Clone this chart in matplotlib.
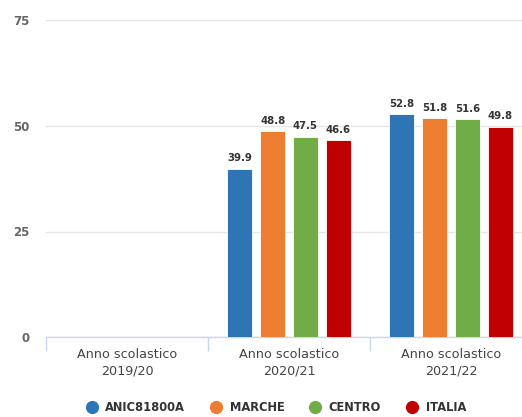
import numpy as np
import matplotlib
matplotlib.use("Agg")
import matplotlib.pyplot as plt

# dati
anni = ["Anno scolastico\n2019/20", "Anno scolastico\n2020/21", "Anno scolastico\n2021/22"]
serie = ["ANIC81800A", "MARCHE", "CENTRO", "ITALIA"]
anic = [np.nan, 39.9, 52.8]
marche = [np.nan, 48.8, 51.8]
centro = [np.nan, 47.5, 51.6]
italia = [np.nan, 46.6, 49.8]
colori = ["#2E75B6", "#ED7D31", "#70AD47", "#C00000"]
yticks = [0, 25, 50, 75]

plt.rcParams['font.family'] = ['DejaVu Sans']

fig = plt.figure(figsize=(5.22, 4.17), dpi=100)
ax = fig.add_axes([46/522, 80/417, 486/522, 316.5/417])

x = np.arange(len(anni))
w = 0.155
step = 0.202
valori = [anic, marche, centro, italia]
for i, (vals, col, nome) in enumerate(zip(valori, colori, serie)):
    pos = x + (i - 1.5) * step
    bars = ax.bar(pos, vals, width=w, color=col, edgecolor="white", linewidth=0.6, label=nome, zorder=3)
    for p, v in zip(pos, vals):
        if not np.isnan(v):
            ax.annotate(f"{v:.1f}", (p, v), xytext=(0, 4), textcoords="offset points",
                        ha="center", va="bottom", fontsize=7.3, fontweight="bold", color="#333333")

ax.set_xlim(-0.5, 2.5)
ax.set_ylim(0, 75)
ax.set_yticks(yticks)
ax.set_yticklabels([str(t) for t in yticks], fontsize=8.5, fontweight="bold", color="#666666")
ax.tick_params(axis="y", length=0, pad=12)
ax.yaxis.grid(True, color="#e6e6e6", linewidth=1, zorder=0)
ax.set_axisbelow(True)

# etichette delle categorie al centro, tacche ai confini
ax.set_xticks(x)
ax.set_xticklabels(anni, fontsize=9.2, color="#444444", linespacing=1.3)
ax.tick_params(axis="x", length=0, pad=8)
ax.set_xticks([-0.5, 0.5, 1.5, 2.5], minor=True)
ax.tick_params(axis="x", which="minor", length=10, color="#ccd6eb", width=1)

for s in ["top", "right", "left"]:
    ax.spines[s].set_visible(False)
ax.spines["bottom"].set_color("#ccd6eb")
ax.spines["bottom"].set_linewidth(1)

handles = [plt.Line2D([], [], marker="o", linestyle="", markersize=8.5, color=c) for c in colori]
leg = fig.legend(handles, serie, loc="center", bbox_to_anchor=(0.523, 0.022), ncol=4, frameon=False,
                 handletextpad=0.2, columnspacing=1.65, prop={"size": 8.3, "weight": "bold"})
for t in leg.get_texts():
    t.set_color("#333333")

fig.savefig("out.png", dpi=100)
